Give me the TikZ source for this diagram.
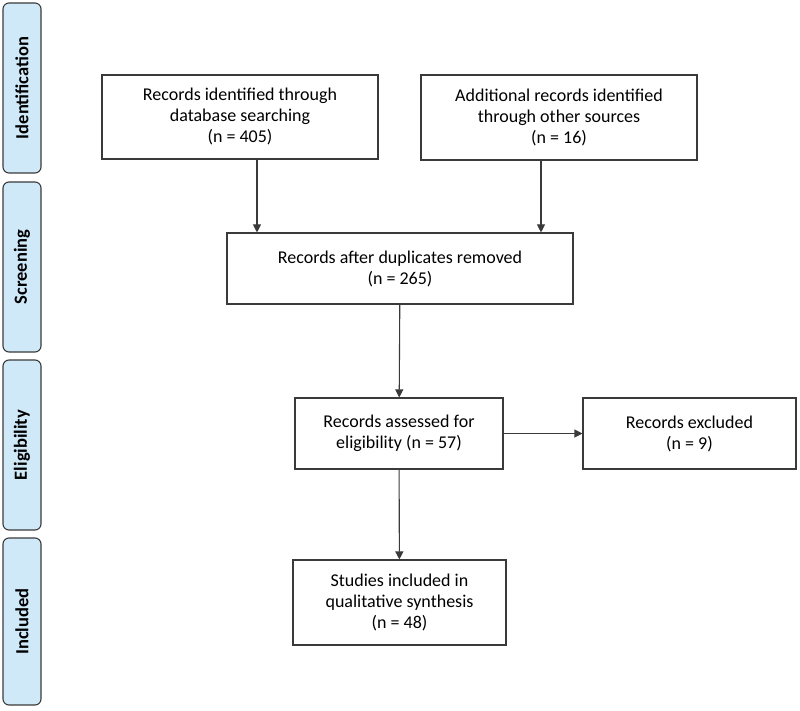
\documentclass[tikz,border=0pt]{standalone}
\usepackage{fontspec}
\setmainfont{Carlito}
\usetikzlibrary{arrows.meta,positioning}

\definecolor{barblue}{HTML}{D0E9F9}
\definecolor{linegray}{HTML}{3A3A3A}

\begin{document}
\begin{tikzpicture}[x=1pt,y=-1pt,
		box/.style={draw=linegray, line width=1.1pt, rectangle, inner sep=0pt, align=center,
			font=\fontsize{18}{21}\selectfont},
		phase/.style={draw=linegray, line width=1.1pt, fill=barblue, rounded corners=6pt,
			inner sep=0pt, minimum width=38pt},
		phaselabel/.style={rotate=90, font=\bfseries\fontsize{18.5}{20}\selectfont},
		>={Triangle[width=8pt,length=8pt]}]
		\useasboundingbox (0,0) rectangle (800,711);
		% phase bars on the left
		\draw (22,88) node [phase, minimum height=170pt] (idbar) {};
		\draw (idbar.center) node [phaselabel] (idtxt) {Identification};
		\draw (22,267) node [phase, minimum height=170pt] (scbar) {};
		\draw (scbar.center) node [phaselabel] (sctxt) {Screening};
		\draw (22,445) node [phase, minimum height=170pt] (elbar) {};
		\draw (elbar.center) node [phaselabel] (eltxt) {Eligibility};
		\draw (22,621.5) node [phase, minimum height=167pt] (inbar) {};
		\draw (inbar.center) node [phaselabel] (intxt) {Included};
		% flow boxes
		\draw (240,117) node [box, minimum width=276pt, minimum height=84pt] (db) {Records identified through\\database searching\\(n = 405)};
		\draw (559,117.5) node [box, minimum width=276pt, minimum height=85pt] (other) {Additional records identified\\through other sources\\(n = 16)};
		\draw (400,268.5) node [box, minimum width=346pt, minimum height=71pt] (dup) {Records after duplicates removed\\(n = 265)};
		\draw (399,433.5) node [box, minimum width=208pt, minimum height=71pt] (elig) {Records assessed for\\eligibility (n = 57)};
		\draw (689.5,433.5) node [box, minimum width=213pt, minimum height=71pt] (excl) {Records excluded\\(n = 9)};
		\draw (399.5,602.5) node [box, minimum width=213pt, minimum height=85pt] (incl) {Studies included in\\qualitative synthesis\\(n = 48)};
		\path[->, linegray, line width=1.1pt]
			([xshift=17pt]db.south) edge ([xshift=17pt]db.south |- dup.north)
			([xshift=-18pt]other.south) edge ([xshift=-18pt]other.south |- dup.north)
			(dup) edge (elig)
			(elig) edge (excl)
				edge (incl);
	\end{tikzpicture}
\end{document}
